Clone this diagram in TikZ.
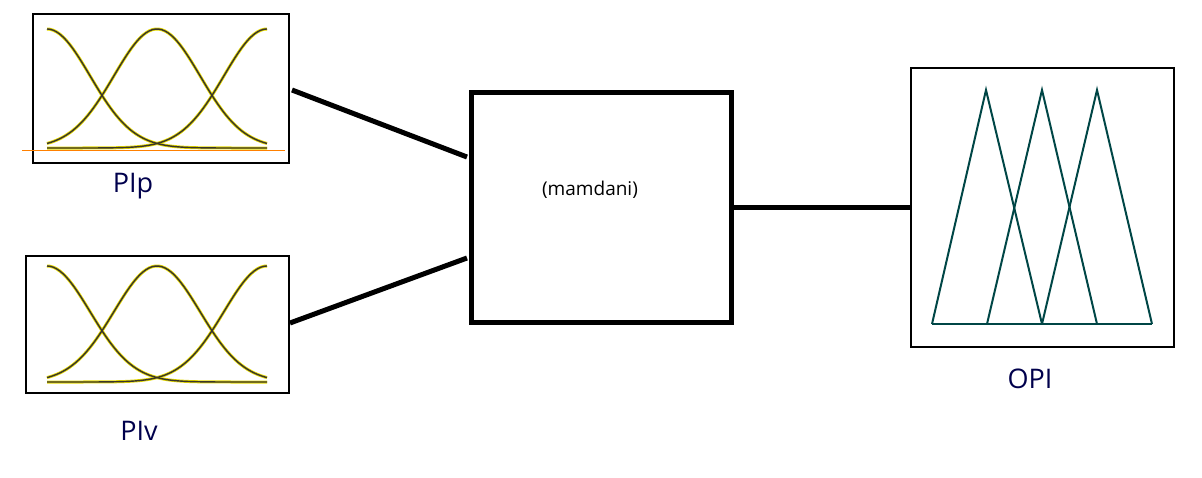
\documentclass[tikz,border=0pt]{standalone}
\usepackage{fontspec}
\setmainfont{Open Sans}
\begin{document}
\begin{tikzpicture}[x=1pt,y=-1pt,
  frame/.style={draw=black,line width=1.5pt},
  conn/.style={line width=5pt},
  glow/.style={draw=yellow!75!olive,line width=3pt},
  curve/.style={draw=black!80!olive,line width=1.4pt},
  tri/.style={draw=teal!55!black,line width=2pt},
  lab/.style={font=\fontsize{27}{29}\selectfont,text=black!70!blue}]
\useasboundingbox (0,0) rectangle (1202,477);
\def\mfs#1#2#3{% top, bottom y, left x
  \foreach \st in {glow,curve}{
   \draw[\st] plot[domain=#3:#3+220,samples=70,smooth] (\x,{#2-(#2-#1)*exp(-2.7*((\x-#3)/100)^2)});
   \draw[\st] plot[domain=#3:#3+220,samples=70,smooth] (\x,{#2-(#2-#1)*exp(-2.7*((\x-#3-110)/100)^2)});
   \draw[\st] plot[domain=#3:#3+220,samples=70,smooth] (\x,{#2-(#2-#1)*exp(-2.7*((\x-#3-220)/100)^2)});
  }}
% input 1
\node[frame,minimum width=256,minimum height=149,inner sep=0,anchor=north west] (p) at (32,13) {};
\draw[orange,line width=0.9pt] (22,150) -- (285,150);
\mfs{29}{148}{47}
\node[lab] (pl) at (133,186) {PIp};
% input 2
\node[frame,minimum width=263,minimum height=137,inner sep=0,anchor=north west] (v) at (25,255) {};
\mfs{266}{382}{47}
\node[lab] (vl) at (139,431) {PIv};
% mamdani
\node[draw,line width=5pt,minimum width=260,minimum height=230,inner sep=0,anchor=north west] (m) at (469,90) {};
\node[font=\fontsize{19}{21}\selectfont] (mt) at (590,190) {(mamdani)};
% output
\node[frame,minimum width=263,minimum height=279,inner sep=0,anchor=north west] (o) at (910,67) {};
\draw[tri] (932,324) -- (986,90) -- (1042,324);
\draw[tri] (987,324) -- (1042,90) -- (1097,324);
\draw[tri] (1042,324) -- (1097,90) -- (1152,324);
\draw[tri] (932,324) -- (1152,324);
\node[lab] (ol) at (1030,379) {OPI};
% connectors
\coordinate (a1) at (292,90); \coordinate (a2) at (290,323);
\coordinate (b1) at (467,157); \coordinate (b2) at (467,258);
\draw[conn] (a1) -- (b1);
\draw[conn] (a2) -- (b2);
\coordinate (c1) at (733,207);
\draw[conn] (c1) -- (o.west |- c1);
\end{tikzpicture}
\end{document}
